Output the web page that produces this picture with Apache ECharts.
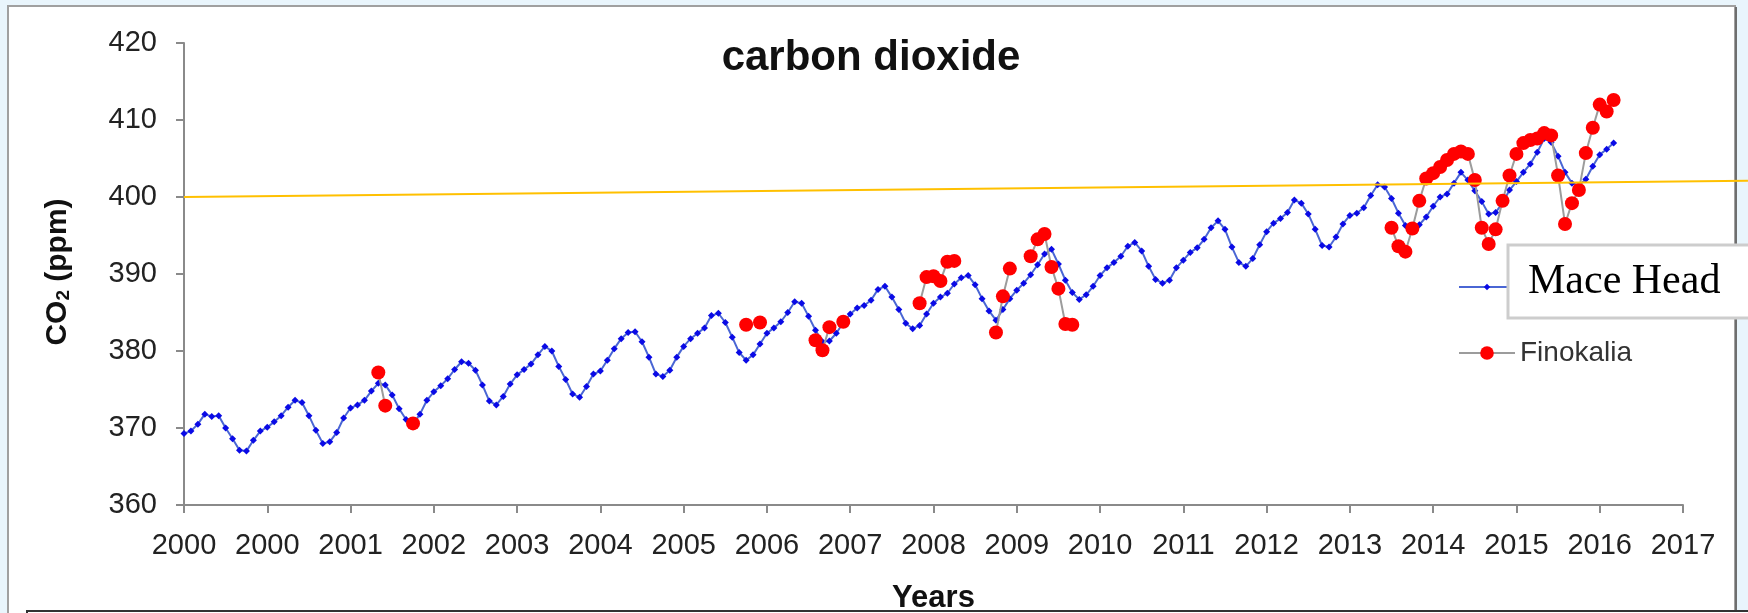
<!DOCTYPE html>
<html>
<head>
<meta charset="utf-8">
<title>carbon dioxide</title>
<script src="https://cdn.jsdelivr.net/npm/echarts@6/dist/echarts.min.js"></script>
<style>
  html, body { margin: 0; padding: 0; background: #e9f5fc; }
  #chart { width: 1748px; height: 613px; }
</style>
</head>
<body>
<div id="chart"></div>
<script>
// Tick labels of the time axis (one tick per year)
const xTickLabels = ['2000', '2000', '2001', '2002', '2003', '2004', '2005', '2006', '2007',
  '2008', '2009', '2010', '2011', '2012', '2013', '2014', '2015', '2016', '2017'];

// Mace Head monthly CO2 (ppm), first value at the first tick
const maceHeadValues = [
  369.3, 369.6, 370.5, 371.8, 371.5, 371.6, 370.0, 368.6, 367.1, 367.0, 368.4, 369.6,
  370.1, 370.8, 371.6, 372.7, 373.6, 373.3, 371.6, 369.7, 368.0, 368.2, 369.4, 371.3,
  372.6, 373.0, 373.6, 374.8, 375.8, 375.6, 374.3, 372.5, 371.1, 370.5, 371.8, 373.6,
  374.7, 375.5, 376.4, 377.6, 378.6, 378.4, 377.5, 375.6, 373.5, 373.0, 374.1, 375.7,
  376.9, 377.6, 378.3, 379.5, 380.6, 380.0, 378.0, 376.3, 374.4, 374.0, 375.4, 377.0,
  377.4, 378.8, 380.3, 381.6, 382.4, 382.5, 381.2, 379.2, 377.0, 376.7, 377.5, 379.2,
  380.6, 381.6, 382.3, 383.0, 384.6, 384.9, 383.7, 381.8, 379.8, 378.8, 379.5, 380.9,
  382.3, 383.0, 383.8, 385.0, 386.4, 386.2, 384.5, 382.7, 381.2, 381.3, 382.3, 383.7,
  384.8, 385.6, 385.9, 386.6, 388.0, 388.4, 387.0, 385.4, 383.6, 382.9, 383.3, 384.8,
  386.2, 387.0, 387.5, 388.7, 389.5, 389.8, 388.6, 386.8, 385.2, 384.0, 385.4, 386.8,
  387.9, 388.8, 389.9, 391.2, 392.6, 393.2, 391.3, 389.2, 387.6, 386.7, 387.3, 388.4,
  389.8, 390.8, 391.5, 392.3, 393.6, 394.1, 393.0, 391.0, 389.3, 388.8, 389.2, 390.8,
  391.8, 392.8, 393.4, 394.5, 396.0, 396.9, 395.8, 393.5, 391.5, 391.0, 392.0, 393.8,
  395.5, 396.6, 397.2, 398.0, 399.6, 399.2, 397.8, 395.8, 393.7, 393.5, 394.8, 396.5,
  397.6, 397.9, 398.6, 400.2, 401.6, 401.3, 399.8, 397.9, 396.3, 396.0, 396.4, 397.4,
  398.8, 400.0, 400.4, 401.8, 403.2, 402.2, 400.8, 399.4, 397.8, 398.0, 399.2, 400.9,
  402.0, 403.2, 404.3, 405.8, 407.6, 407.1, 405.3, 403.2, 401.8, 401.5, 402.3, 404.0,
  405.5, 406.2, 407.0
];

// Finokalia monthly CO2 (ppm): month index (counted like Mace Head) and value
const finokaliaMonths = [
  28, 29, 33,
  81, 83,
  91, 92, 93, 95,
  106, 107, 108, 109, 110, 111,
  117, 118, 119,
  122, 123, 124, 125, 126, 127, 128,
  174, 175, 176, 177, 178, 179, 180, 181, 182, 183, 184, 185, 186, 187, 188, 189, 190,
  191, 192, 193, 194, 195, 196, 197, 198, 199, 200, 201, 202, 203, 204, 205, 206
];
const finokaliaValues = [
  377.2, 372.9, 370.6,
  383.4, 383.7,
  381.4, 380.1, 383.1, 383.8,
  386.2, 389.6, 389.7, 389.1, 391.6, 391.7,
  382.4, 387.1, 390.7,
  392.3, 394.5, 395.2, 390.9, 388.1, 383.5, 383.4,
  396.0, 393.6, 392.9, 395.9, 399.5, 402.4, 403.1, 403.9, 404.8, 405.6, 405.9, 405.6, 402.2,
  396.0, 393.9, 395.8, 399.5, 402.8, 405.6, 407.0, 407.4, 407.6, 408.3, 408.0, 402.8, 396.5,
  399.2, 400.9, 405.7, 409.0, 412.0, 411.1, 412.6
];

// 400 ppm reference line; it runs on past the last tick up to the page edge
const refLineX = [0, 18.78];
const refLineY = [400, 402.1];

const MONTH = 1 / 12;
const X_MAX = 18;
const GRID_LEFT = 184, GRID_RIGHT = 65, GRID_TOP = 43, GRID_BOTTOM = 108, PAGE_W = 1748;
// the overlay grid reaches the page edge, so its axis is stretched by the same ratio
const X_MAX_WIDE = X_MAX * (PAGE_W - GRID_LEFT) / (PAGE_W - GRID_LEFT - GRID_RIGHT);

const maceData = maceHeadValues.map((v, i) => [i * MONTH, v]);

// months that are not consecutive get a break in the line
const finoData = [];
finokaliaMonths.forEach((m, i) => {
  if (i > 0 && m - finokaliaMonths[i - 1] > 1) {
    finoData.push([(m - 0.5) * MONTH, '-']);
  }
  finoData.push([m * MONTH, finokaliaValues[i]]);
});

const refData = refLineX.map((x, i) => [x, refLineY[i]]);

const FONT = "'Liberation Sans', Arial, sans-serif";
const axisGrey = '#8a8a8a';

const chart = echarts.init(document.getElementById('chart'), null, { renderer: 'canvas' });

chart.setOption({
  animation: false,
  backgroundColor: 'transparent',
  textStyle: { fontFamily: FONT },
  grid: [
    { left: GRID_LEFT, right: GRID_RIGHT, top: GRID_TOP, bottom: GRID_BOTTOM, containLabel: false, outerBoundsMode: 'none' },
    { left: GRID_LEFT, right: 0, top: GRID_TOP, bottom: GRID_BOTTOM, containLabel: false, outerBoundsMode: 'none' }
  ],
  xAxis: [
    {
      type: 'value',
      gridIndex: 0,
      min: 0,
      max: X_MAX,
      interval: 1,
      name: 'Years',
      nameLocation: 'middle',
      nameGap: 78,
      nameTextStyle: { fontFamily: FONT, fontWeight: 'bold', fontSize: 31, color: '#111' },
      axisLine: { show: true, lineStyle: { color: axisGrey, width: 2 } },
      axisTick: { show: true, length: 8, lineStyle: { color: axisGrey, width: 2 } },
      axisLabel: {
        fontFamily: FONT, fontSize: 29, color: '#222', margin: 26,
        formatter: (v) => xTickLabels[Math.round(v)]
      },
      splitLine: { show: false }
    },
    {
      type: 'value', gridIndex: 1, min: 0, max: X_MAX_WIDE, show: false
    }
  ],
  yAxis: [
    {
      type: 'value',
      gridIndex: 0,
      min: 360,
      max: 420,
      interval: 10,
      axisLine: { show: true, lineStyle: { color: axisGrey, width: 2 } },
      axisTick: { show: true, length: 8, lineStyle: { color: axisGrey, width: 2 } },
      axisLabel: { fontFamily: FONT, fontSize: 29, color: '#222', margin: 27 },
      splitLine: { show: false }
    },
    {
      type: 'value', gridIndex: 1, min: 360, max: 420, show: false
    }
  ],
  legend: [
    {
      orient: 'vertical', left: 1453, top: 268,
      itemWidth: 56, itemHeight: 8,
      textStyle: { fontFamily: FONT, fontSize: 28, color: '#333' },
      data: ['Mace Head']
    },
    {
      orient: 'vertical', left: 1453, top: 334,
      itemWidth: 56, itemHeight: 17,
      textStyle: { fontFamily: FONT, fontSize: 28, color: '#333' },
      data: ['Finokalia']
    }
  ],
  series: [
    {
      name: 'Mace Head',
      type: 'line',
      data: maceData,
      symbol: 'diamond',
      symbolSize: 7,
      itemStyle: { color: '#0a0ae6' },
      lineStyle: { color: '#4a66d4', width: 2 },
      z: 3
    },
    {
      name: 'Finokalia',
      type: 'line',
      data: finoData,
      connectNulls: false,
      symbol: 'circle',
      symbolSize: 14,
      itemStyle: { color: '#ff0000' },
      lineStyle: { color: '#9c9c9c', width: 2 },
      z: 4
    },
    {
      name: 'reference',
      type: 'line',
      xAxisIndex: 1,
      yAxisIndex: 1,
      data: refData,
      symbol: 'none',
      silent: true,
      lineStyle: { color: '#ffc000', width: 2 },
      z: 5
    }
  ],
  graphic: [
    {
      type: 'rect', z: -10, silent: true,
      shape: { x: 8, y: 6, width: 1727, height: 640 },
      style: { fill: '#ffffff', stroke: '#a0a0a0', lineWidth: 2 }
    },
    {
      type: 'line', z: -9, silent: true,
      shape: { x1: 1736, y1: 7, x2: 1736, y2: 613 },
      style: { stroke: '#6e6e6e', lineWidth: 2 }
    },
    {
      type: 'text', z: 10, silent: true,
      x: 871, y: 58,
      style: {
        text: 'carbon dioxide', fill: '#111',
        font: "bold 42px 'Liberation Sans', Arial, sans-serif",
        align: 'center', verticalAlign: 'middle'
      }
    },
    {
      type: 'text', z: 10, silent: true,
      x: 55, y: 272, rotation: Math.PI / 2,
      style: {
        text: '{a|CO}{b|2}{a| (ppm)}',
        align: 'center', verticalAlign: 'middle',
        rich: {
          a: { fontFamily: FONT, fontWeight: 'bold', fontSize: 30, lineHeight: 36, verticalAlign: 'bottom', fill: '#111' },
          b: { fontFamily: FONT, fontWeight: 'bold', fontSize: 19, lineHeight: 15, verticalAlign: 'bottom', fill: '#111' }
        }
      }
    },
    {
      type: 'rect', z: 100, silent: true,
      shape: { x: 1508, y: 245, width: 260, height: 73 },
      style: { fill: '#ffffff', stroke: '#cdcdcd', lineWidth: 3 }
    },
    {
      type: 'text', z: 101, silent: true,
      x: 1528, y: 282,
      style: {
        text: 'Mace Head', fill: '#000',
        font: "42px 'Liberation Serif', 'Times New Roman', serif",
        align: 'left', verticalAlign: 'middle'
      }
    },
    {
      type: 'rect', z: 100, silent: true,
      shape: { x: 27, y: 611, width: 1740, height: 20 },
      style: { fill: '#ffffff', stroke: '#333333', lineWidth: 2 }
    }
  ]
});
</script>
</body>
</html>
